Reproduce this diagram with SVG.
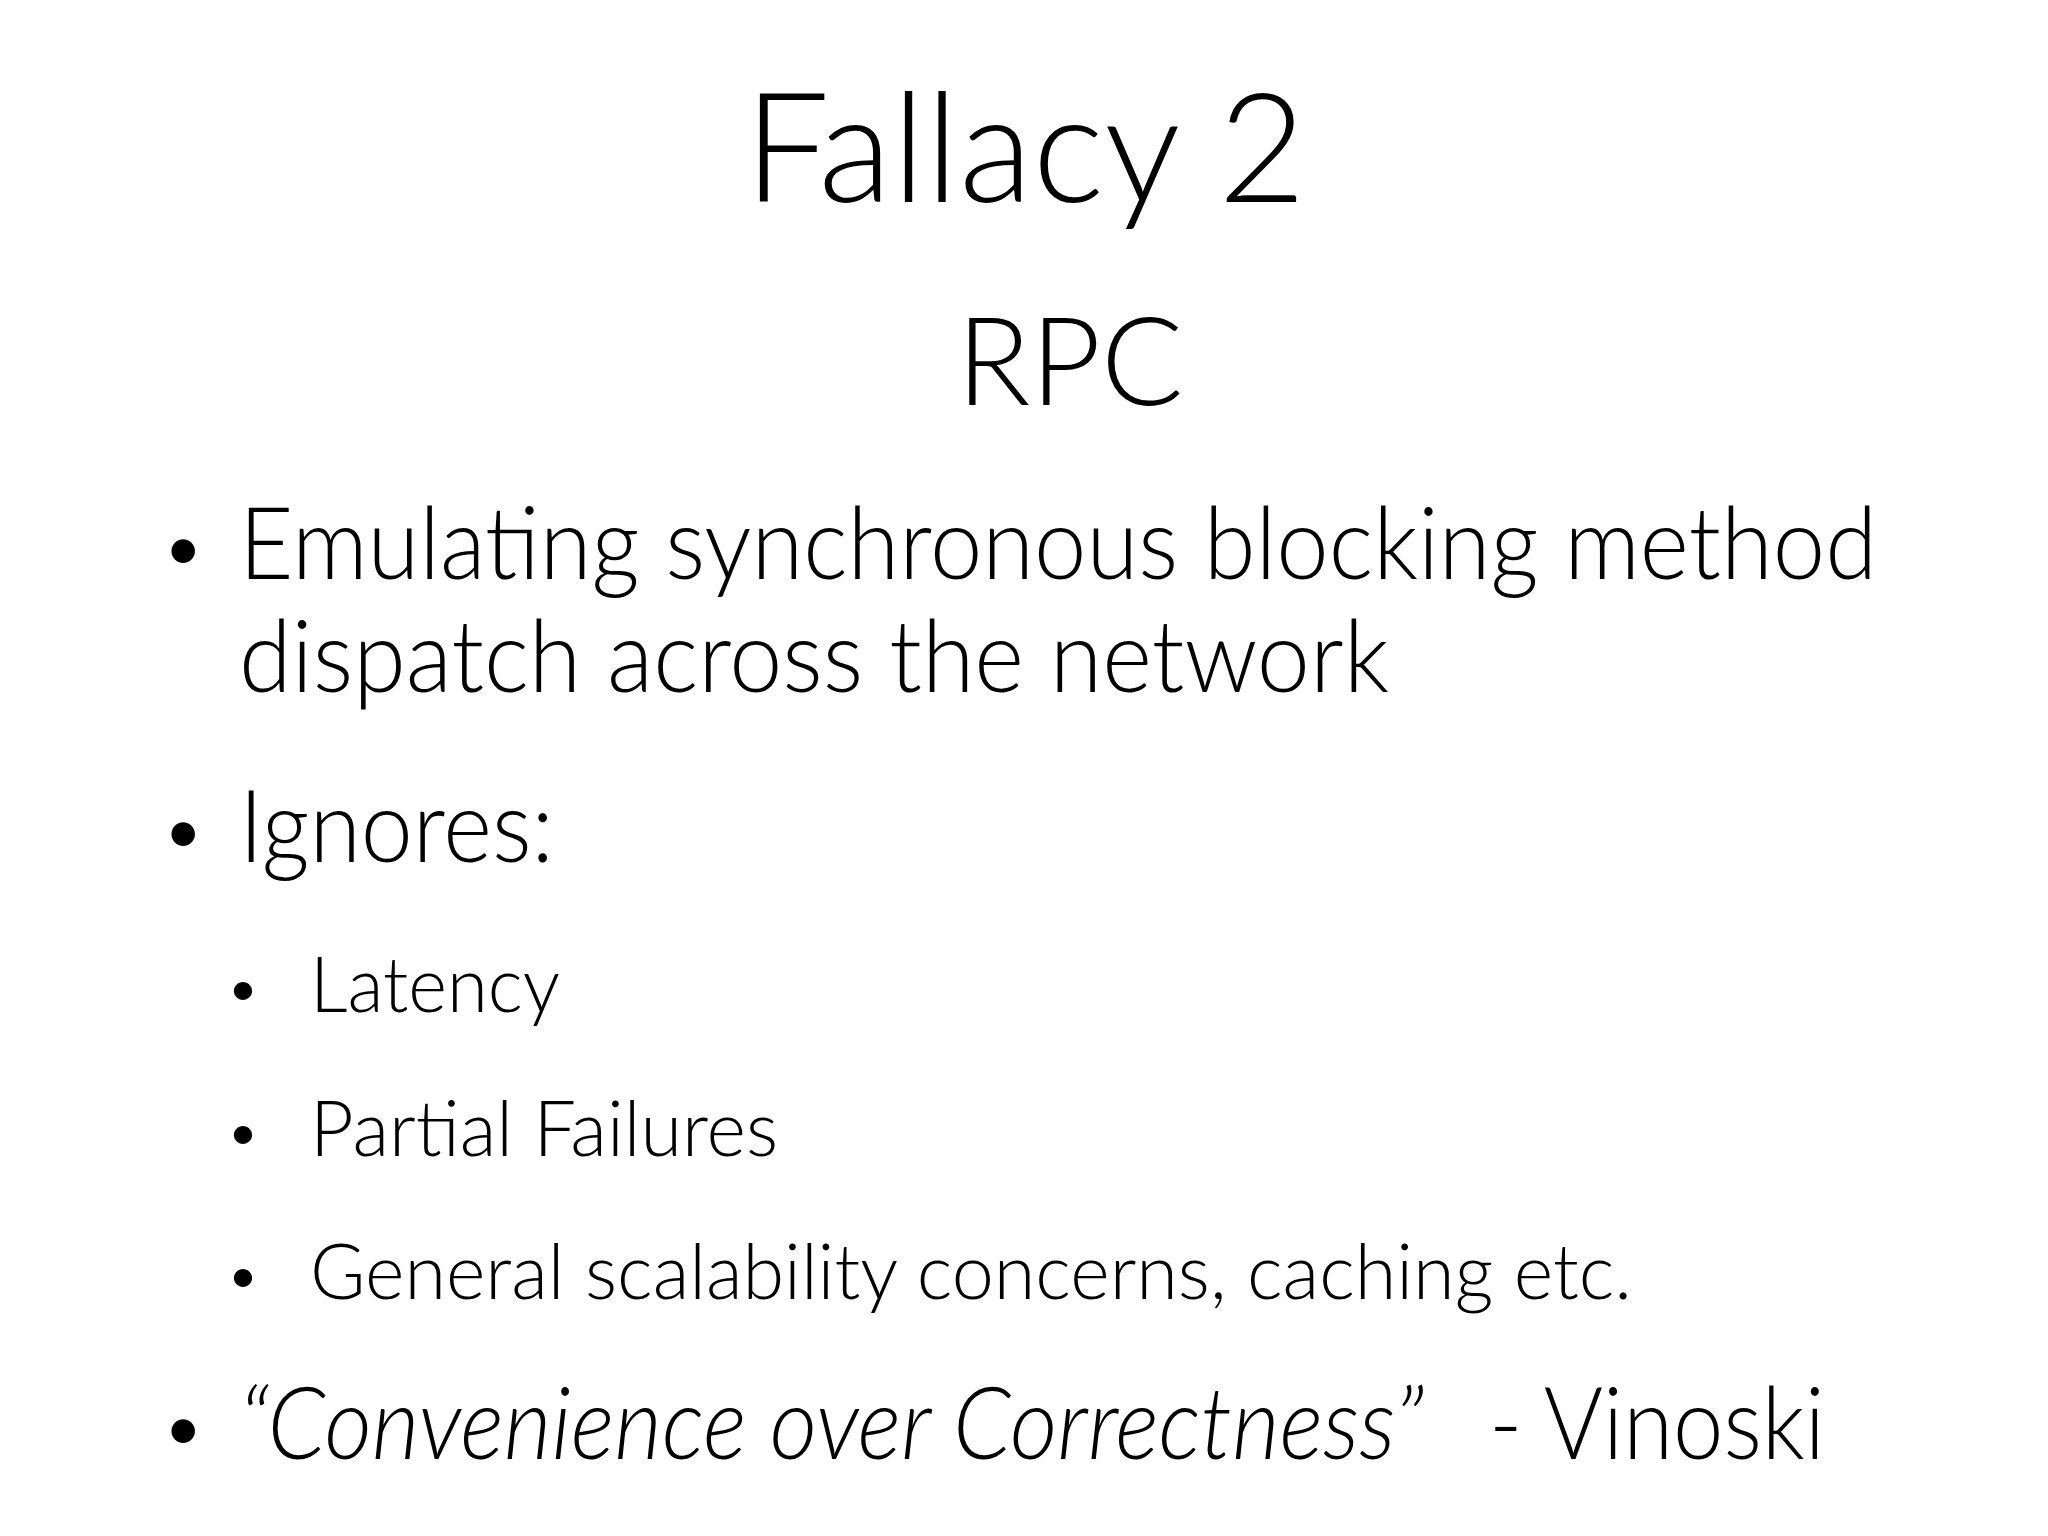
<svg xmlns="http://www.w3.org/2000/svg" width="2048" height="1536" viewBox="0 0 2048 1536">
<style>
text{font-family:Lato,"Open Sans",sans-serif;font-weight:300;fill:#000}
.b{font-size:100px}
.s{font-size:76px}
.d{font-size:80px}
.ds{font-size:62px}
</style>
<rect width="2048" height="1536" fill="#fff"/>
<g id="title"><text x="1025" y="202" font-size="152" text-anchor="middle">Fallacy 2</text></g>
<g id="subtitle"><text x="1070" y="405" font-size="122" text-anchor="middle">RPC</text></g>
<g id="bullets">
<text class="d" x="160" y="575">•</text>
<text class="b" x="239" y="579" textLength="1638" lengthAdjust="spacingAndGlyphs">Emulating synchronous blocking method</text>
<text class="b" x="239" y="692" textLength="1150" lengthAdjust="spacingAndGlyphs">dispatch across the network</text>
<text class="d" x="160" y="858">•</text>
<text class="b" x="239" y="862" textLength="315" lengthAdjust="spacingAndGlyphs">Ignores:</text>
<text class="ds" x="225" y="1009">•</text>
<text class="s" x="310" y="1012" textLength="250" lengthAdjust="spacingAndGlyphs">Latency</text>
<text class="ds" x="225" y="1153">•</text>
<text class="s" x="310" y="1156" textLength="468" lengthAdjust="spacingAndGlyphs">Partial Failures</text>
<text class="ds" x="225" y="1296">•</text>
<text class="s" x="310" y="1299" textLength="1322" lengthAdjust="spacingAndGlyphs">General scalability concerns, caching etc.</text>
<text class="d" x="160" y="1455">•</text>
<text class="b" x="239" y="1459" font-style="italic" textLength="1185" lengthAdjust="spacingAndGlyphs">“Convenience over Correctness”</text>
<text class="b" x="1489" y="1459" textLength="336" lengthAdjust="spacingAndGlyphs">- Vinoski</text>
</g>
</svg>
